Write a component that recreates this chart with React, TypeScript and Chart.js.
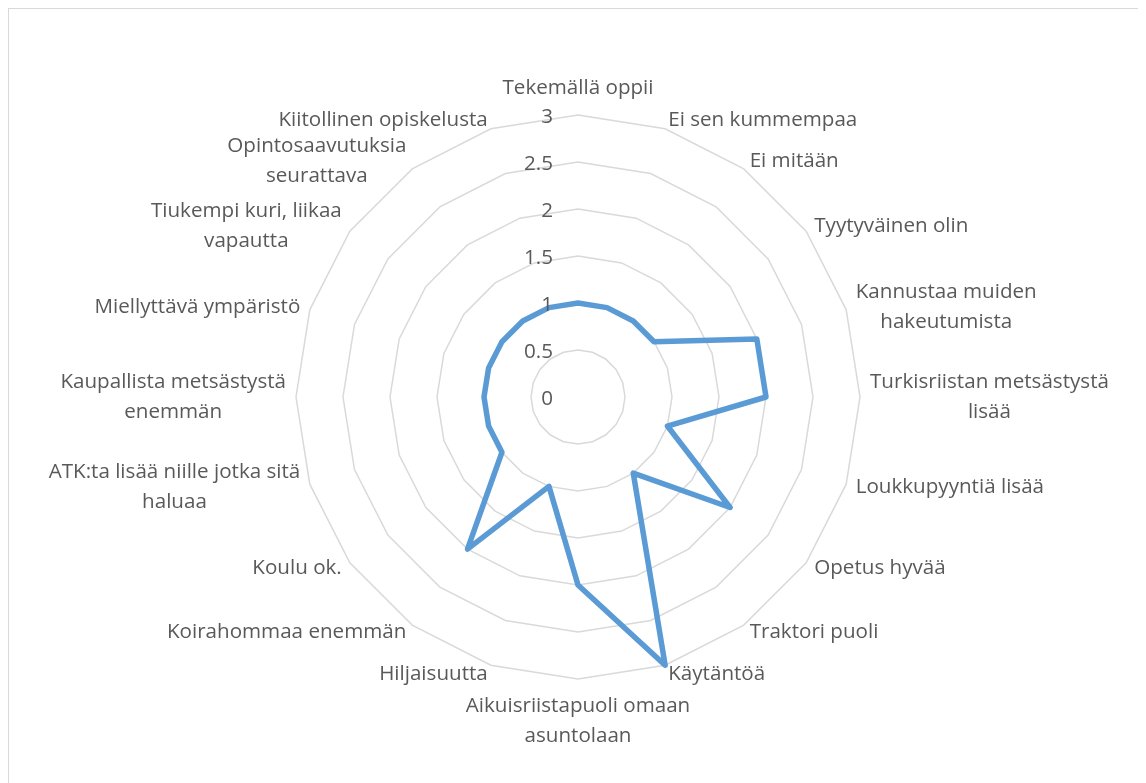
import React, { useEffect, useRef } from "react";
import { Chart, registerables } from "chart.js";

Chart.register(...registerables);

const categories: string[][] = [
  ["Tekemällä oppii"],
  ["Ei sen kummempaa"],
  ["Ei mitään"],
  ["Tyytyväinen olin"],
  ["Kannustaa muiden", "hakeutumista"],
  ["Turkisriistan metsästystä", "lisää"],
  ["Loukkupyyntiä lisää"],
  ["Opetus hyvää"],
  ["Traktori puoli"],
  ["Käytäntöä"],
  ["Aikuisriistapuoli omaan", "asuntolaan"],
  ["Hiljaisuutta"],
  ["Koirahommaa enemmän"],
  ["Koulu ok."],
  ["ATK:ta lisää niille jotka sitä", "haluaa"],
  ["Kaupallista metsästystä", "enemmän"],
  ["Miellyttävä ympäristö"],
  ["Tiukempi kuri, liikaa", "vapautta"],
  ["Opintosaavutuksia", "seurattava"],
  ["Kiitollinen opiskelusta"],
];

const values: number[] = [1, 1, 1, 1, 2, 2, 1, 2, 1, 3, 2, 1, 2, 1, 1, 1, 1, 1, 1, 1];

const tickValues: number[] = [0, 0.5, 1, 1.5, 2, 2.5, 3];

const FONT_FAMILY = "'Open Sans', Lato, sans-serif";
const FONT_SIZE = 20.6;
const LINE_H = 30;
const TEXT_COLOR = "#595959";

document.documentElement.style.overflow = "hidden";

const excelLabels = {
  id: "excelLabels",
  afterDraw(chart: any) {
    const s = chart.scales.r;
    const ctx = chart.ctx as CanvasRenderingContext2D;
    ctx.save();
    ctx.font = `${FONT_SIZE}px ${FONT_FAMILY}`;
    ctx.fillStyle = TEXT_COLOR;
    ctx.textBaseline = "middle";
    ctx.textAlign = "right";
    tickValues.forEach((v) => {
      const d = s.getDistanceFromCenterForValue(v);
      ctx.fillText(String(v), s.xCenter - 25, s.yCenter - d + 2);
    });
    ctx.textAlign = "center";
    categories.forEach((lines, i) => {
      const a = s.getIndexAngle(i);
      const outer = s.getPointPosition(i, s.drawingArea);
      const p = s.getPointPosition(i, s.drawingArea + 10);
      const sin = Math.sin(a);
      const cos = Math.cos(a);
      const h = lines.length * LINE_H;
      const w = Math.max(...lines.map((l) => ctx.measureText(l).width));
      let cx = p.x;
      let cy: number;
      if (Math.abs(sin) > 0.01) {
        cx = sin > 0 ? p.x + w / 2 : p.x - w / 2;
        cy = outer.y - cos * 9;
      } else {
        cy = outer.y - cos * (h / 2 + 12);
      }
      lines.forEach((l, k) => {
        ctx.fillText(l, cx, cy - h / 2 + LINE_H * (k + 0.5));
      });
    });
    ctx.restore();
  },
};

export default function App() {
  const ref = useRef<HTMLCanvasElement | null>(null);
  useEffect(() => {
    document.documentElement.style.overflow = "hidden";
    const canvas = ref.current;
    if (!canvas) return;
    const chart = new Chart(canvas, {
      type: "radar",
      data: {
        labels: categories,
        datasets: [
          {
            data: values,
            borderColor: "#5B9BD5",
            backgroundColor: "rgba(0,0,0,0)",
            borderWidth: 5.5,
            borderJoinStyle: "round",
            pointRadius: 0,
            pointHoverRadius: 0,
            fill: false,
            tension: 0,
          },
        ],
      },
      options: {
        responsive: false,
        animation: false,
        layout: { padding: { left: 287, right: 285, top: 106, bottom: 104 } },
        plugins: { legend: { display: false }, tooltip: { enabled: false } },
        scales: {
          r: {
            min: 0,
            max: 3,
            ticks: { stepSize: 0.5, display: false },
            grid: { color: "#D9D9D9", lineWidth: 1.5 },
            angleLines: { display: false },
            pointLabels: { display: false },
          },
        },
      },
      plugins: [excelLabels],
    });
    return () => chart.destroy();
  }, []);
  return (
    <div
      style={{
        width: 1138,
        height: 776,
        border: "1px solid #D9D9D9",
        boxSizing: "border-box",
        background: "#fff",
        overflow: "hidden",
      }}
    >
      <canvas ref={ref} width={1136} height={774} style={{ display: "block" }} />
    </div>
  );
}
